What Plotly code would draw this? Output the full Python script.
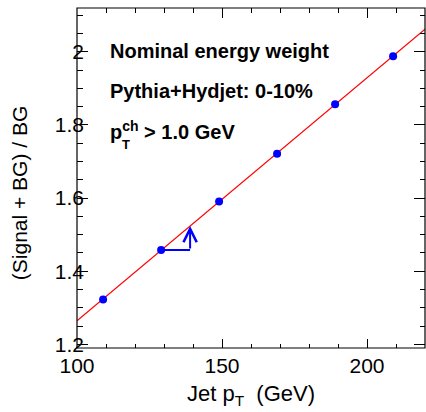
import numpy as np
import plotly.graph_objects as go

# Data
jet_pt = [109, 129, 149, 169, 189, 209]
ratio = [1.323, 1.458, 1.591, 1.721, 1.857, 1.988]
x_range = [100, 220]
y_range = [1.19, 2.12]
x_ticks = [100, 150, 200]
y_ticks = [1.2, 1.4, 1.6, 1.8, 2.0]
y_tick_labels = ["1.2", "1.4", "1.6", "1.8", "2"]
arrow_dx = 10  # horizontal run of the slope-indicator arrow

slope, intercept = np.polyfit(jet_pt, ratio, 1)
fit_x = np.array(x_range, dtype=float)
fit_y = slope * fit_x + intercept

FONT = "Liberation Sans, Arial, Helvetica, sans-serif"
TICK_SIZE = 21
TITLE_SIZE = 21
TEXT_SIZE = 20

fig = go.Figure()
fig.add_trace(go.Scatter(x=fit_x, y=fit_y, mode="lines",
                         line=dict(color="#ff0000", width=1.2), showlegend=False))
fig.add_trace(go.Scatter(x=jet_pt, y=ratio, mode="markers",
                         marker=dict(color="#0000ff", size=8), showlegend=False))
# dummy trace for mirrored (top/right) tick axes
fig.add_trace(go.Scatter(x=[None], y=[None], xaxis="x2", yaxis="y2", showlegend=False,
                         hoverinfo="skip"))

# slope indicator arrow: from second point, horizontally, then up to the fit line
ax0 = jet_pt[1]
ay0 = ratio[1]
ax1 = ax0 + arrow_dx
ay1 = slope * ax1 + intercept
fig.add_trace(go.Scatter(x=[ax0, ax1], y=[ay0, ay0], mode="lines",
                         line=dict(color="#0000ff", width=2), showlegend=False))
fig.add_annotation(x=ax1, y=ay1, ax=ax1, ay=ay0, xref="x", yref="y", axref="x", ayref="y",
                   showarrow=True, arrowhead=5, arrowsize=1.3, arrowwidth=2,
                   arrowcolor="#0000ff", standoff=0, text="")

txt_font = dict(family=FONT, size=TEXT_SIZE, color="black")
fig.add_annotation(x=0.09, y=0.874, xref="paper", yref="paper", xanchor="left", yanchor="middle",
                   text="<b>Nominal energy weight</b>", showarrow=False, font=txt_font)
fig.add_annotation(x=0.09, y=0.756, xref="paper", yref="paper", xanchor="left", yanchor="middle",
                   text="<b>Pythia+Hydjet: 0-10%</b>", showarrow=False, font=txt_font)
fig.add_annotation(x=0.09, y=0.640, xref="paper", yref="paper", xanchor="left", yanchor="middle",
                   text="<b>p<sup>ch</sup> > 1.0 GeV</b>", showarrow=False, font=txt_font)
fig.add_annotation(x=0.142, y=0.600, xref="paper", yref="paper", xanchor="center", yanchor="middle",
                   text="<b>T</b>", showarrow=False, font=dict(family=FONT, size=13, color="black"))

# axis titles
fig.add_annotation(x=0.5, y=-0.138, xref="paper", yref="paper", xanchor="center", yanchor="middle",
                   text="Jet p<sub>T</sub>  (GeV)", showarrow=False,
                   font=dict(family=FONT, size=TITLE_SIZE + 1, color="black"))
fig.add_annotation(x=-0.167, y=0.455, xref="paper", yref="paper", xanchor="center", yanchor="middle",
                   text="(Signal + BG) / BG", textangle=-90, showarrow=False,
                   font=dict(family=FONT, size=TITLE_SIZE, color="black"))

# frame
fig.add_shape(type="rect", xref="paper", yref="paper", x0=0, x1=1, y0=0, y1=1,
              line=dict(color="black", width=1.2), fillcolor="rgba(0,0,0,0)", layer="above")

common = dict(showgrid=False, zeroline=False, showline=False, automargin=False,
              ticks="inside", tickcolor="black", tickwidth=1,
              tickfont=dict(family=FONT, size=TICK_SIZE, color="black"))
xminor = dict(dtick=10, tick0=100, ticklen=4.5, ticks="inside", tickcolor="black", tickwidth=1)
yminor = dict(dtick=0.05, tick0=1.2, ticklen=5.5, ticks="inside", tickcolor="black", tickwidth=1)

fig.update_layout(
    width=426, height=412, margin=dict(l=77, r=1, t=8, b=64),
    paper_bgcolor="white", plot_bgcolor="white", font=dict(family=FONT),
    xaxis=dict(range=x_range, tickvals=x_ticks, ticklen=9.5, minor=xminor,
               ticklabelstandoff=3, **common),
    yaxis=dict(range=y_range, tickvals=y_ticks, ticktext=y_tick_labels, ticklen=11, minor=yminor,
               ticklabelstandoff=-8, **common),
    xaxis2=dict(range=x_range, tickvals=x_ticks, ticklen=9.5, minor=xminor, overlaying="x",
                side="top", anchor="y2", showticklabels=False, **common),
    yaxis2=dict(range=y_range, tickvals=y_ticks, ticklen=11, minor=yminor, overlaying="y",
                side="right", anchor="x2", showticklabels=False, **common),
)

fig.write_html("out.html", config={"displayModeBar": False},
               post_script="document.body.style.margin='0px';")
